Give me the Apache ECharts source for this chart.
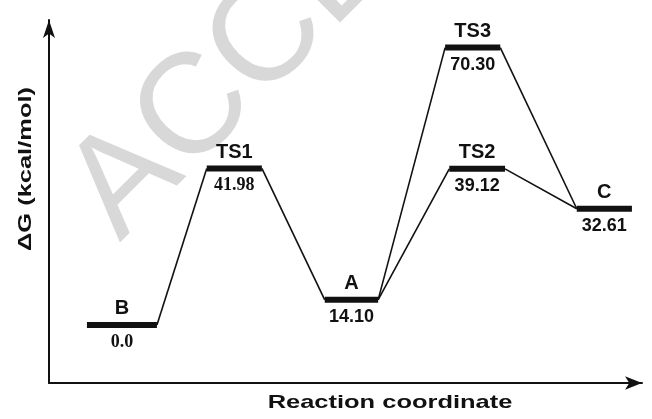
<!DOCTYPE html>
<html>
<head>
<meta charset="utf-8">
<script src="https://cdn.jsdelivr.net/npm/echarts@6/dist/echarts.min.js"></script>
<style>
    html, body {margin: 0; padding: 0; background: #fff;}
    #chart {width: 652px; height: 419px;}
</style>
</head>
<body>
<div id="chart"></div>
<script>
// states on the profile, left to right
var stateNames = ['B', 'TS1', 'A', 'TS3', 'TS2', 'C'];
var energyLabels = ['0.0', '41.98', '14.10', '70.30', '39.12', '32.61'];
// drawn height of each level (schematic units)
var levelHeight = [16.0, 59.1, 22.9, 92.4, 59.0, 48.0];
// where each level starts / ends along the reaction coordinate
var levelFrom = [6.4, 26.6, 46.5, 66.8, 67.5, 89.0];
var levelTo = [18.2, 35.9, 55.5, 76.1, 76.9, 98.3];
// connectors: level index -> level index
var pathFrom = [0, 1, 2, 2, 3, 4];
var pathTo = [1, 2, 3, 4, 5, 5];

var ink = '#111';
var sans = '"Liberation Sans", Arial, sans-serif';
var serif = '"Liberation Serif", "Times New Roman", serif';
var serifValues = ['B', 'TS1'];

var levelData = [];
for (var i = 0; i < stateNames.length; i++) {
    levelData.push([levelFrom[i], levelTo[i], levelHeight[i]]);
}
var pathData = [];
for (var j = 0; j < pathFrom.length; j++) {
    var a = pathFrom[j], b = pathTo[j];
    pathData.push([levelTo[a], levelHeight[a], levelFrom[b], levelHeight[b]]);
}

var chart = echarts.init(document.getElementById('chart'));
var option = {
    animation: false,
    backgroundColor: '#fff',
    grid: {left: 49, right: 10, top: 20, bottom: 36},
    xAxis: {
        type: 'value', min: 0, max: 100,
        axisLine: {show: true, symbol: ['none', 'arrow'], symbolSize: [10, 17], lineStyle: {color: ink, width: 2}},
        axisTick: {show: false}, axisLabel: {show: false}, splitLine: {show: false}
    },
    yAxis: {
        type: 'value', min: 0, max: 100,
        axisLine: {show: true, symbol: ['none', 'arrow'], symbolSize: [9, 18], lineStyle: {color: ink, width: 2}},
        axisTick: {show: false}, axisLabel: {show: false}, splitLine: {show: false}
    },
    graphic: [
        {
            // watermark
            type: 'text', z: -10, x: 92, y: 215, rotation: 0.785,
            style: {text: 'ACCEPTED MANUSCRIPT', fill: '#d8d8d8', font: '142px ' + sans, textAlign: 'left', textVerticalAlign: 'middle'}
        },
        {
            type: 'text', x: 390, y: 403, scaleX: 1.34,
            style: {text: 'Reaction coordinate', fill: ink, font: 'bold 19px ' + sans, textAlign: 'center', textVerticalAlign: 'middle'}
        },
        {
            type: 'text', x: 26, y: 169, rotation: Math.PI / 2, scaleX: 1.34,
            style: {text: 'ΔG (kcal/mol)', fill: ink, font: 'bold 19px ' + sans, textAlign: 'center', textVerticalAlign: 'middle'}
        }
    ],
    series: [
        {
            type: 'custom',
            data: pathData,
            renderItem: function (params, api) {
                var p1 = api.coord([api.value(0), api.value(1)]);
                var p2 = api.coord([api.value(2), api.value(3)]);
                return {
                    type: 'line',
                    shape: {x1: p1[0], y1: p1[1], x2: p2[0], y2: p2[1]},
                    style: {stroke: ink, lineWidth: 1.6}
                };
            }
        },
        {
            type: 'custom',
            data: levelData,
            renderItem: function (params, api) {
                var p1 = api.coord([api.value(0), api.value(2)]);
                var p2 = api.coord([api.value(1), api.value(2)]);
                var cx = (p1[0] + p2[0]) / 2;
                var name = stateNames[params.dataIndex];
                var fam = serifValues.indexOf(name) >= 0 ? serif : sans;
                return {
                    type: 'group',
                    children: [
                        {type: 'line', shape: {x1: p1[0], y1: p1[1], x2: p2[0], y2: p2[1]},
                            style: {stroke: ink, lineWidth: 6}},
                        {type: 'text', style: {x: cx, y: p1[1] - 16, text: name, fill: ink,
                            font: 'bold 20px ' + sans, textAlign: 'center', textVerticalAlign: 'middle'}},
                        {type: 'text', style: {x: cx, y: p1[1] + 17, text: energyLabels[params.dataIndex], fill: ink,
                            font: 'bold 18px ' + fam, textAlign: 'center', textVerticalAlign: 'middle'}}
                    ]
                };
            }
        }
    ]
};
chart.setOption(option);
</script>
</body>
</html>
